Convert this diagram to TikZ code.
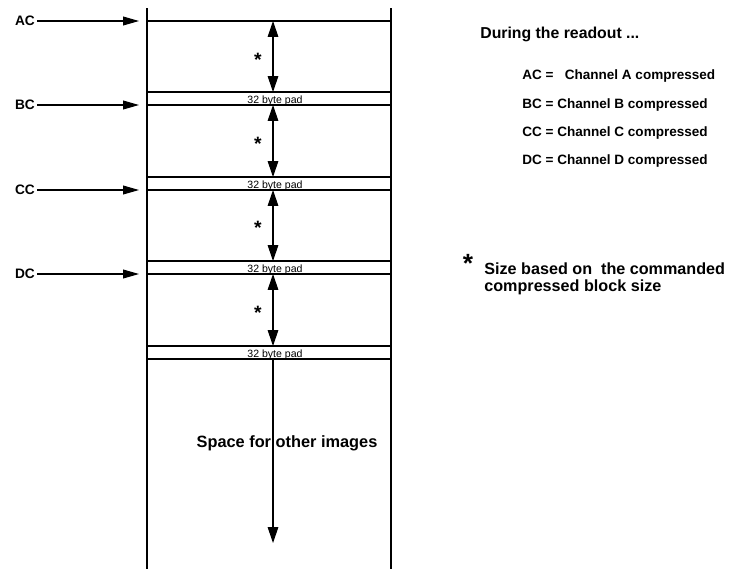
\documentclass[tikz,border=0pt]{standalone}
\usepackage{fontspec}
\setmainfont{Liberation Sans}
\usetikzlibrary{positioning,arrows.meta}

\begin{document}
\begin{tikzpicture}[
  x=0.02cm, y=-0.02cm,
  wall/.style={line width=0.6pt},
  tag/.style={font=\fontsize{7.8}{9}\selectfont\bfseries, inner sep=1pt},
  padtext/.style={font=\fontsize{6}{6}\selectfont, inner sep=0pt},
  star/.style={font=\fontsize{11}{12}\selectfont\bfseries, inner sep=0pt},
  legend/.style={font=\fontsize{7.7}{9}\selectfont\bfseries, anchor=west, inner sep=0pt},
  arrow/.style={-{Triangle[length=9pt,width=5pt]}, line width=0.6pt},
  sizearrow/.style={{Triangle[length=9pt,width=6pt]}-{Triangle[length=9pt,width=6pt]}, line width=0.6pt}
]
  \useasboundingbox (0,0) rectangle (732,569);

  % memory column
  \draw[wall] (147,8) -- (147,569);
  \draw[wall] (391,8) -- (391,569);
  \foreach \y in {21,92,105,177,190,261,274,346,359}
    \draw[wall] (147,\y) -- (391,\y);

  % pads
  \foreach \y/\n in {101/1,186/2,270/3,355/4}
    \node[padtext] (pad\n) at (275,\y) {32 byte pad};

  % start pointers
  \node[tag, anchor=east] (ac) at (37,21) {AC};
  \node[tag, anchor=east] (bc) at (37,105) {BC};
  \node[tag, anchor=east] (cc) at (37,190) {CC};
  \node[tag, anchor=east] (dc) at (37,274) {DC};
  \coordinate (acin) at (139,21);
  \coordinate (bcin) at (139,105);
  \coordinate (ccin) at (139,190);
  \coordinate (dcin) at (139,274);
  \draw[arrow] (ac) -- (acin);
  \draw[arrow] (bc) -- (bcin);
  \draw[arrow] (cc) -- (ccin);
  \draw[arrow] (dc) -- (dcin);

  % block sizes
  \coordinate (t1) at (273,21);  \coordinate (b1) at (273,92);
  \coordinate (t2) at (273,105); \coordinate (b2) at (273,177);
  \coordinate (t3) at (273,190); \coordinate (b3) at (273,261);
  \coordinate (t4) at (273,274); \coordinate (b4) at (273,346);
  \coordinate (t5) at (273,359); \coordinate (b5) at (273,543);
  \draw[sizearrow] (t1) -- (b1);
  \draw[sizearrow] (t2) -- (b2);
  \draw[sizearrow] (t3) -- (b3);
  \draw[sizearrow] (t4) -- (b4);
  \draw[arrow, -{Triangle[length=9pt,width=6pt]}] (t5) -- (b5);
  \node[star] (s1) at (258,60) {*};
  \node[star] (s2) at (258,144) {*};
  \node[star] (s3) at (258,228) {*};
  \node[star] (s4) at (258,313) {*};

  \node[font=\fontsize{9.3}{10}\selectfont\bfseries, inner sep=0pt] (other) at (287,443) {Space for other images};

  % legend
  \node[font=\fontsize{9}{10}\selectfont\bfseries, anchor=west, inner sep=0pt] (during) at (480,34) {During the readout ...};
  \node[legend] (lac) at (522,76) {AC =\ \ \ Channel A compressed};
  \node[legend] (lbc) at (522,105) {BC = Channel B compressed};
  \node[legend] (lcc) at (522,133) {CC = Channel C compressed};
  \node[legend] (ldc) at (522,161) {DC = Channel D compressed};

  \node[font=\fontsize{15}{16}\selectfont\bfseries, inner sep=0pt] (note) at (468,263) {*};
  \node[font=\fontsize{9.2}{10}\selectfont\bfseries, anchor=north west, align=left, inner sep=0pt] (notetext) at (484,262) {Size based on\ \ the commanded\\compressed block size};
\end{tikzpicture}
\end{document}
